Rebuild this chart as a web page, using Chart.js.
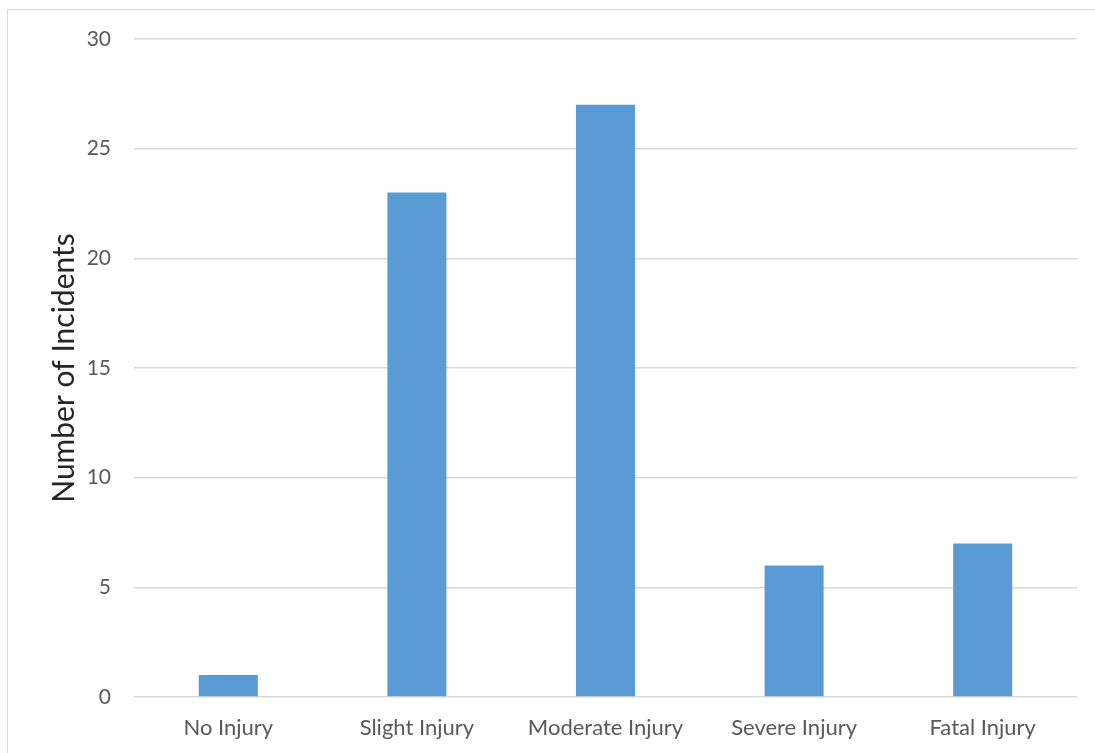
<!DOCTYPE html>
<html><head><meta charset="utf-8">
<script src="https://cdn.jsdelivr.net/npm/chart.js@4"></script>
<style>
html,body{margin:0;padding:0;background:#fff;}
#wrap{position:absolute;left:0;top:0;width:1095px;height:753px;overflow:hidden;}
#frame{position:absolute;left:7px;top:9px;width:1200px;height:900px;border:1px solid #d9d9d9;box-sizing:border-box;}
canvas{position:absolute;left:0;top:0;}
</style></head>
<body>
<div id="wrap"><div id="frame"></div><canvas id="c" width="1095" height="753"></canvas></div>
<script>
const categories = ["No Injury","Slight Injury","Moderate Injury","Severe Injury","Fatal Injury"];
const incidents = [1,23,27,6,7];
const yTicks = [0,5,10,15,20,25,30];
const yTitle = "Number of Incidents";

const FONT = "Lato, 'Open Sans', sans-serif";
new Chart(document.getElementById('c'), {
  type: 'bar',
  data: {
    labels: categories,
    datasets: [{ data: incidents, backgroundColor: '#5b9bd5', borderWidth: 0,
      categoryPercentage: 1, barPercentage: 0.313 }]
  },
  options: {
    responsive: false, animation: false,
    layout: { padding: { left: 46, right: 18, top: 39, bottom: 0 } },
    plugins: { legend: { display: false }, tooltip: { enabled: false } },
    scales: {
      x: {
        afterFit: s => { s.height = 56; },
        grid: { display: false, drawTicks: false },
        border: { display: false },
        ticks: { color: '#595959', font: { family: FONT, size: 22 }, padding: 18 }
      },
      y: {
        min: 0, max: 30,
        afterBuildTicks: s => { s.ticks = yTicks.map(v => ({ value: v })); },
        afterFit: s => { s.width = 134 - 46; },
        grid: { color: '#d9d9d9', lineWidth: 1.5, drawTicks: false },
        border: { display: false },
        ticks: { color: '#595959', font: { family: FONT, size: 21 }, padding: 23 },
        title: { display: true, text: yTitle, color: '#262626', font: { family: FONT, size: 30 }, padding: 0 }
      }
    }
  }
});
</script>
</body></html>
